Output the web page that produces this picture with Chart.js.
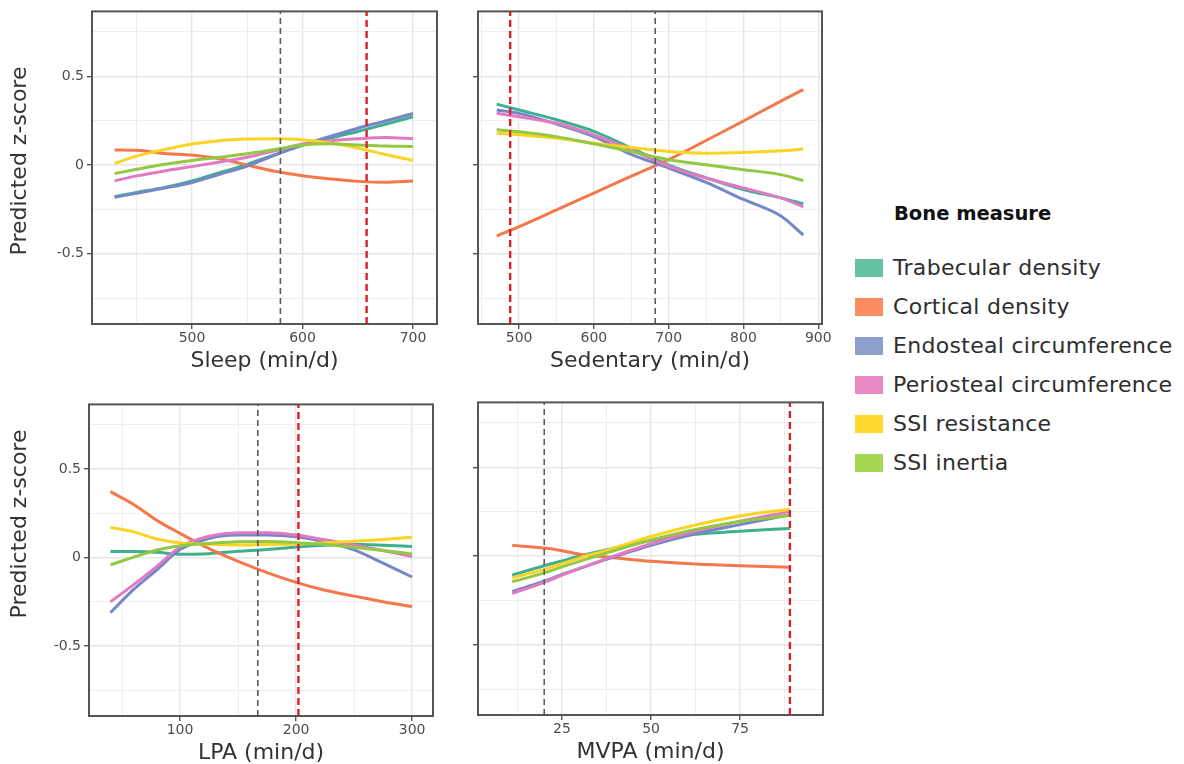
<!DOCTYPE html>
<html>
<head>
<meta charset="utf-8">
<script src="https://cdn.jsdelivr.net/npm/chart.js@4.4.0/dist/chart.umd.min.js"></script>
<style>
  body { margin: 0; background: #fff; width: 1184px; height: 764px; position: relative; overflow: hidden; font-family: "DejaVu Sans", sans-serif; }
  canvas { position: absolute; }
  #legend { position: absolute; left: 855px; top: 0; color: #2e2e2e; }
  #legend .ttl { position: absolute; left: 39px; top: 202px; font-weight: bold; font-size: 19.5px; white-space: nowrap; color: #111; }
  #legend .row { position: absolute; left: 0; height: 26px; white-space: nowrap; font-size: 22px; line-height: 26px; letter-spacing: 0.3px; }
  #legend .sw { display: inline-block; width: 28px; height: 18px; vertical-align: -2px; margin-right: 10px; }
</style>
</head>
<body>
<canvas id="sleep"></canvas>
<canvas id="sed"></canvas>
<canvas id="lpa"></canvas>
<canvas id="mvpa"></canvas>
<div id="legend"></div>
<script>
// Bone measures (legend order)
const measures = ['Trabecular density', 'Cortical density', 'Endosteal circumference', 'Periosteal circumference', 'SSI resistance', 'SSI inertia'];
const lineColors = ['#3fb08f', '#f4784a', '#7587c6', '#e07ac3', '#f9d422', '#93c942'];
const swatchColors = ['#66c2a5', '#fc8d62', '#8da0cb', '#e78ac3', '#ffd92f', '#a6d854'];

// Sleep panel
const sleepX = [430, 450, 475, 500, 525, 550, 575, 600, 625, 650, 675, 700];
const sleepTrab = [-0.178, -0.154, -0.126, -0.089, -0.043, 0.004, 0.059, 0.111, 0.152, 0.189, 0.23, 0.272];
const sleepCort = [0.085, 0.083, 0.065, 0.056, 0.035, 0.0, -0.035, -0.06, -0.078, -0.092, -0.097, -0.09];
const sleepEndo = [-0.181, -0.159, -0.13, -0.098, -0.052, -0.006, 0.056, 0.115, 0.161, 0.207, 0.248, 0.29];
const sleepPeri = [-0.089, -0.061, -0.033, -0.009, 0.017, 0.044, 0.08, 0.118, 0.137, 0.148, 0.155, 0.148];
const sleepRes = [0.01, 0.05, 0.087, 0.118, 0.137, 0.146, 0.148, 0.143, 0.124, 0.096, 0.059, 0.026];
const sleepIner = [-0.048, -0.024, 0.004, 0.026, 0.044, 0.063, 0.087, 0.113, 0.12, 0.113, 0.107, 0.105];
const sleepRefs = [580, 658]; // grey, red

// Sedentary panel
const sedX = [470, 500, 550, 600, 650, 700, 750, 800, 850, 880];
const sedTrab = [0.343, 0.31, 0.255, 0.19, 0.095, 0.0, -0.072, -0.138, -0.185, -0.218];
const sedCort = [-0.4, -0.347, -0.253, -0.158, -0.063, 0.03, 0.138, 0.248, 0.36, 0.425];
const sedEndo = [0.31, 0.291, 0.231, 0.16, 0.06, -0.017, -0.098, -0.194, -0.287, -0.394];
const sedPeri = [0.291, 0.272, 0.235, 0.17, 0.086, -0.007, -0.073, -0.129, -0.185, -0.235];
const sedRes = [0.179, 0.17, 0.151, 0.123, 0.099, 0.076, 0.067, 0.071, 0.08, 0.09];
const sedIner = [0.198, 0.188, 0.16, 0.119, 0.076, 0.03, 0.002, -0.026, -0.054, -0.088];
const sedRefs = [682, 488];

// LPA panel
const lpaX = [40, 60, 80, 100, 125, 150, 175, 200, 225, 250, 275, 300];
const lpaTrab = [0.034, 0.034, 0.03, 0.018, 0.022, 0.035, 0.045, 0.06, 0.07, 0.075, 0.07, 0.062];
const lpaCort = [0.372, 0.3, 0.21, 0.136, 0.05, -0.022, -0.085, -0.14, -0.185, -0.218, -0.25, -0.277];
const lpaEndo = [-0.311, -0.18, -0.069, 0.045, 0.108, 0.127, 0.127, 0.117, 0.089, 0.043, -0.032, -0.11];
const lpaPeri = [-0.25, -0.153, -0.05, 0.06, 0.12, 0.14, 0.14, 0.127, 0.1, 0.071, 0.04, 0.006];
const lpaRes = [0.17, 0.145, 0.105, 0.084, 0.075, 0.071, 0.074, 0.076, 0.083, 0.092, 0.102, 0.114];
const lpaIner = [-0.041, 0.002, 0.043, 0.067, 0.08, 0.089, 0.09, 0.084, 0.073, 0.058, 0.04, 0.02];
const lpaRefs = [167, 202];

// MVPA panel
const mvpaX = [11, 20, 25, 30, 37.5, 50, 62.5, 75, 89];
const mvpaTrab = [-0.108, -0.055, -0.028, 0.0, 0.035, 0.088, 0.122, 0.14, 0.155];
const mvpaCort = [0.06, 0.045, 0.03, 0.01, -0.005, -0.03, -0.045, -0.055, -0.063];
const mvpaEndo = [-0.2, -0.142, -0.104, -0.07, -0.019, 0.06, 0.125, 0.177, 0.233];
const mvpaPeri = [-0.21, -0.148, -0.108, -0.07, -0.015, 0.069, 0.14, 0.196, 0.25];
const mvpaRes = [-0.123, -0.075, -0.043, -0.01, 0.032, 0.11, 0.175, 0.225, 0.264];
const mvpaIner = [-0.145, -0.095, -0.061, -0.03, 0.017, 0.09, 0.15, 0.195, 0.228];
const mvpaRefs = [20, 89];

const yMin = -0.895, yMax = 0.865;
const yLabelTicks = [0.5, 0, -0.5];

// ticks at every step inside [min, max], no extra bound ticks
function stepTicks(min, max, step) {
  const out = [];
  for (let v = Math.ceil(min / step) * step; v <= max + 1e-9; v += step) {
    out.push({ value: Math.round(v * 1000) / 1000 });
  }
  return out;
}

// panel frame
const boxPlugin = {
  id: 'box',
  afterDatasetsDraw(chart) {
    const { ctx, chartArea: a } = chart;
    ctx.save();
    ctx.strokeStyle = '#555';
    ctx.lineWidth = 2;
    ctx.strokeRect(a.left, a.top, a.right - a.left, a.bottom - a.top);
    ctx.restore();
  }
};

// y title placed by hand (the lower one sits off centre in the original)
const yTitlePlugin = {
  id: 'yTitle',
  afterDraw(chart, args, opts) {
    if (!opts.text) return;
    const ctx = chart.ctx;
    ctx.save();
    ctx.translate(opts.x, opts.y);
    ctx.rotate(-Math.PI / 2);
    ctx.font = '22px "DejaVu Sans"';
    ctx.fillStyle = '#333';
    ctx.textAlign = 'center';
    ctx.textBaseline = 'middle';
    ctx.fillText(opts.text, 0, 0);
    ctx.restore();
  }
};

function panel(id, box, xs, values, refs, xr, xTitle, yTitle) {
  const yW = yTitle ? box.l : 10;
  const padTop = 10, padRight = 18, xH = 50;
  const cv = document.getElementById(id);
  cv.width = yW + (box.r - box.l) + padRight;
  cv.height = padTop + (box.b - box.t) + xH;
  cv.style.left = (box.l - yW) + 'px';
  cv.style.top = (box.t - padTop) + 'px';

  const datasets = [];
  // reference lines: grey = first, red = second
  datasets.push({ data: [{ x: refs[0], y: yMin }, { x: refs[0], y: yMax }], borderColor: '#5a5a5a', borderWidth: 1.6, borderDash: [6, 4], pointRadius: 0, order: 0 });
  datasets.push({ data: [{ x: refs[1], y: yMin }, { x: refs[1], y: yMax }], borderColor: '#d9202a', borderWidth: 2.4, borderDash: [7, 4], pointRadius: 0, order: 0 });
  values.forEach((vals, i) => {
    datasets.push({
      label: measures[i],
      data: xs.map((x, j) => ({ x: x, y: vals[j] })),
      borderColor: lineColors[i],
      borderWidth: 3,
      pointRadius: 0,
      cubicInterpolationMode: 'monotone',
      order: 10 - i
    });
  });

  new Chart(cv, {
    type: 'line',
    data: { datasets: datasets },
    plugins: [boxPlugin, yTitlePlugin],
    options: {
      responsive: false,
      animation: false,
      devicePixelRatio: 1,
      layout: { padding: { top: padTop, right: padRight, left: 0, bottom: 0 } },
      plugins: {
        legend: { display: false },
        tooltip: { enabled: false },
        yTitle: yTitle ? { text: 'Predicted z-score', x: 20, y: yTitle } : {}
      },
      scales: {
        x: {
          type: 'linear',
          min: xr.min, max: xr.max,
          afterFit: s => { s.height = xH; },
          afterBuildTicks: s => { s.ticks = stepTicks(xr.min, xr.max, xr.step); },
          border: { display: false },
          grid: {
            color: c => xr.labels.includes(c.tick.value) ? '#e6e6e6' : '#eeeeee',
            lineWidth: c => xr.labels.includes(c.tick.value) ? 1.4 : 1,
            tickLength: 5,
            tickColor: c => xr.labels.includes(c.tick.value) ? '#555' : 'rgba(0,0,0,0)'
          },
          ticks: {
            autoSkip: false,
            maxRotation: 0,
            padding: 1,
            color: '#4d4d4d',
            font: { family: '"DejaVu Sans"', size: 14 },
            callback: v => xr.labels.includes(v) ? String(v) : ''
          },
          title: {
            display: true,
            text: xTitle,
            color: '#333',
            font: { family: '"DejaVu Sans"', size: 22 },
            padding: { top: 0, bottom: 0 }
          }
        },
        y: {
          type: 'linear',
          min: yMin, max: yMax,
          afterFit: s => { s.width = yW; },
          afterBuildTicks: s => { s.ticks = stepTicks(yMin, yMax, 0.25); },
          border: { display: false },
          grid: {
            color: c => yLabelTicks.includes(c.tick.value) ? '#e6e6e6' : '#eeeeee',
            lineWidth: c => yLabelTicks.includes(c.tick.value) ? 1.4 : 1,
            tickLength: 5,
            tickColor: c => yLabelTicks.includes(c.tick.value) ? '#555' : 'rgba(0,0,0,0)'
          },
          ticks: {
            autoSkip: false,
            padding: 3,
            color: '#4d4d4d',
            font: { family: '"DejaVu Sans"', size: 14 },
            callback: v => (yTitle && yLabelTicks.includes(v)) ? String(v) : ''
          }
        }
      }
    }
  });
}

panel('sleep', { l: 92, t: 10, r: 437, b: 324 }, sleepX,
  [sleepTrab, sleepCort, sleepEndo, sleepPeri, sleepRes, sleepIner], sleepRefs,
  { min: 409.5, max: 721.7, step: 50, labels: [500, 600, 700] }, 'Sleep (min/d)', 161);

panel('sed', { l: 478, t: 10, r: 822, b: 324 }, sedX,
  [sedTrab, sedCort, sedEndo, sedPeri, sedRes, sedIner], sedRefs,
  { min: 445, max: 905, step: 50, labels: [500, 600, 700, 800, 900] }, 'Sedentary (min/d)', null);

panel('lpa', { l: 89, t: 403, r: 433, b: 716 }, lpaX,
  [lpaTrab, lpaCort, lpaEndo, lpaPeri, lpaRes, lpaIner], lpaRefs,
  { min: 21.5, max: 318, step: 50, labels: [100, 200, 300] }, 'LPA (min/d)', 131);

panel('mvpa', { l: 478, t: 401, r: 823, b: 715 }, mvpaX,
  [mvpaTrab, mvpaCort, mvpaEndo, mvpaPeri, mvpaRes, mvpaIner], mvpaRefs,
  { min: 1.4, max: 98.3, step: 12.5, labels: [25, 50, 75] }, 'MVPA (min/d)', null);

// legend
const legend = document.getElementById('legend');
legend.innerHTML = '<div class="ttl">Bone measure</div>';
const rowCenters = [268, 307, 346, 385, 424, 463];
measures.forEach((m, i) => {
  const row = document.createElement('div');
  row.className = 'row';
  row.style.top = (rowCenters[i] - 13) + 'px';
  row.innerHTML = '<span class="sw" style="background:' + swatchColors[i] + '"></span>' + m;
  legend.appendChild(row);
});
</script>
</body>
</html>
